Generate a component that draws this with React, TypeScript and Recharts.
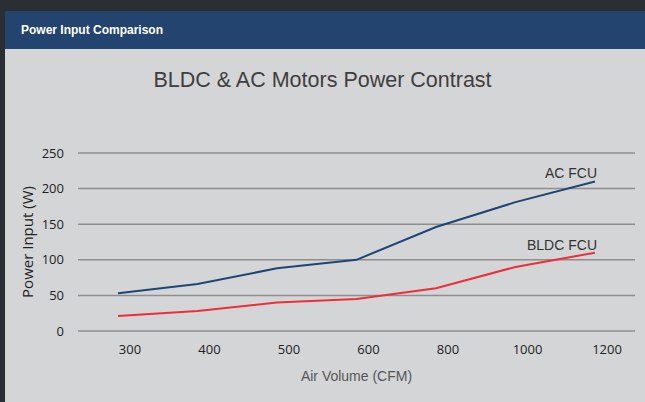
import { CartesianGrid, Label, Line, LineChart, XAxis, YAxis } from "recharts";

const airVolume = ["300", "400", "500", "600", "800", "1000", "1200"];
const acFcu = [53, 66, 88, 100, 146, 181, 210];
const bldcFcu = [21, 28, 40, 45, 60, 90, 110];
const yTicks = [0, 50, 100, 150, 200, 250];

const data = airVolume.map((cfm, i) => ({ cfm, ac: acFcu[i], bldc: bldcFcu[i] }));

const XTick = ({ x, y, payload }: any) => (
  <text x={x + 12} y={y} dy="0.71em" textAnchor="middle" fontFamily="Open Sans" fontSize={13} fill="#222">
    {payload.value}
  </text>
);

const endLabel = (name: string) => (props: any) => {
  if (props.index !== data.length - 1) return null;
  return (
    <text x={props.x + 2} y={props.y - 3} textAnchor="end" fontFamily="Liberation Sans" fontSize={14} fill="#333">
      {name}
    </text>
  );
};

export default function App() {
  return (
    <div style={{ position: "fixed", left: 0, top: 0, width: 645, height: 402, background: "#2b2f33", overflow: "hidden" }}>
      <div style={{ position: "absolute", left: 5, top: 11, width: 640, height: 391, background: "#d4d5d7" }}>
        <div
          style={{
            height: 38,
            background: "#22446f",
            color: "#fff",
            fontFamily: "Liberation Sans",
            fontWeight: "bold",
            fontSize: 12,
            lineHeight: "38px",
            paddingLeft: 16,
          }}
        >
          Power Input Comparison
        </div>
      </div>
      <div
        style={{
          position: "absolute",
          left: 0,
          top: 68,
          width: 645,
          textAlign: "center",
          fontFamily: "Liberation Sans",
          fontSize: 21.5,
          color: "#3e3e3e",
        }}
      >
        BLDC &amp; AC Motors Power Contrast
      </div>
      <div style={{ position: "absolute", left: 0, top: 0 }}>
        <LineChart width={645} height={402} data={data} margin={{ top: 153, right: 10, left: 0, bottom: 0 }}>
          <CartesianGrid vertical={false} stroke="#8e8e8e" strokeWidth={1.5} />
          <XAxis
            dataKey="cfm"
            height={71}
            padding={{ left: 40, right: 40 }}
            tickLine={false}
            axisLine={false}
            tickSize={0}
            tickMargin={14}
            tick={<XTick />}
            interval={0}
          >
            <Label value="Air Volume (CFM)" position="insideBottom" offset={21} fontFamily="Liberation Sans" fontSize={14} fill="#555" />
          </XAxis>
          <YAxis
            width={78}
            domain={[0, 250]}
            ticks={yTicks}
            tickLine={false}
            axisLine={false}
            tickSize={0}
            tickMargin={14}
            tick={{ fontFamily: "Open Sans", fontSize: 13, fill: "#222" }}
          >
            <Label
              content={({ viewBox }: any) => {
                const cx = viewBox.x + 27;
                const cy = viewBox.y + viewBox.height / 2;
                return (
                  <text x={cx} y={cy} transform={`rotate(-90 ${cx} ${cy})`} textAnchor="middle" dominantBaseline="central" fontFamily="Open Sans" fontSize={15} fill="#222">
                    Power Input (W)
                  </text>
                );
              }}
            />
          </YAxis>
          <Line type="linear" dataKey="ac" stroke="#1f4577" strokeWidth={2} dot={false} isAnimationActive={false} label={endLabel("AC FCU")} />
          <Line type="linear" dataKey="bldc" stroke="#ee2e38" strokeWidth={2} dot={false} isAnimationActive={false} label={endLabel("BLDC FCU")} />
        </LineChart>
      </div>
    </div>
  );
}
